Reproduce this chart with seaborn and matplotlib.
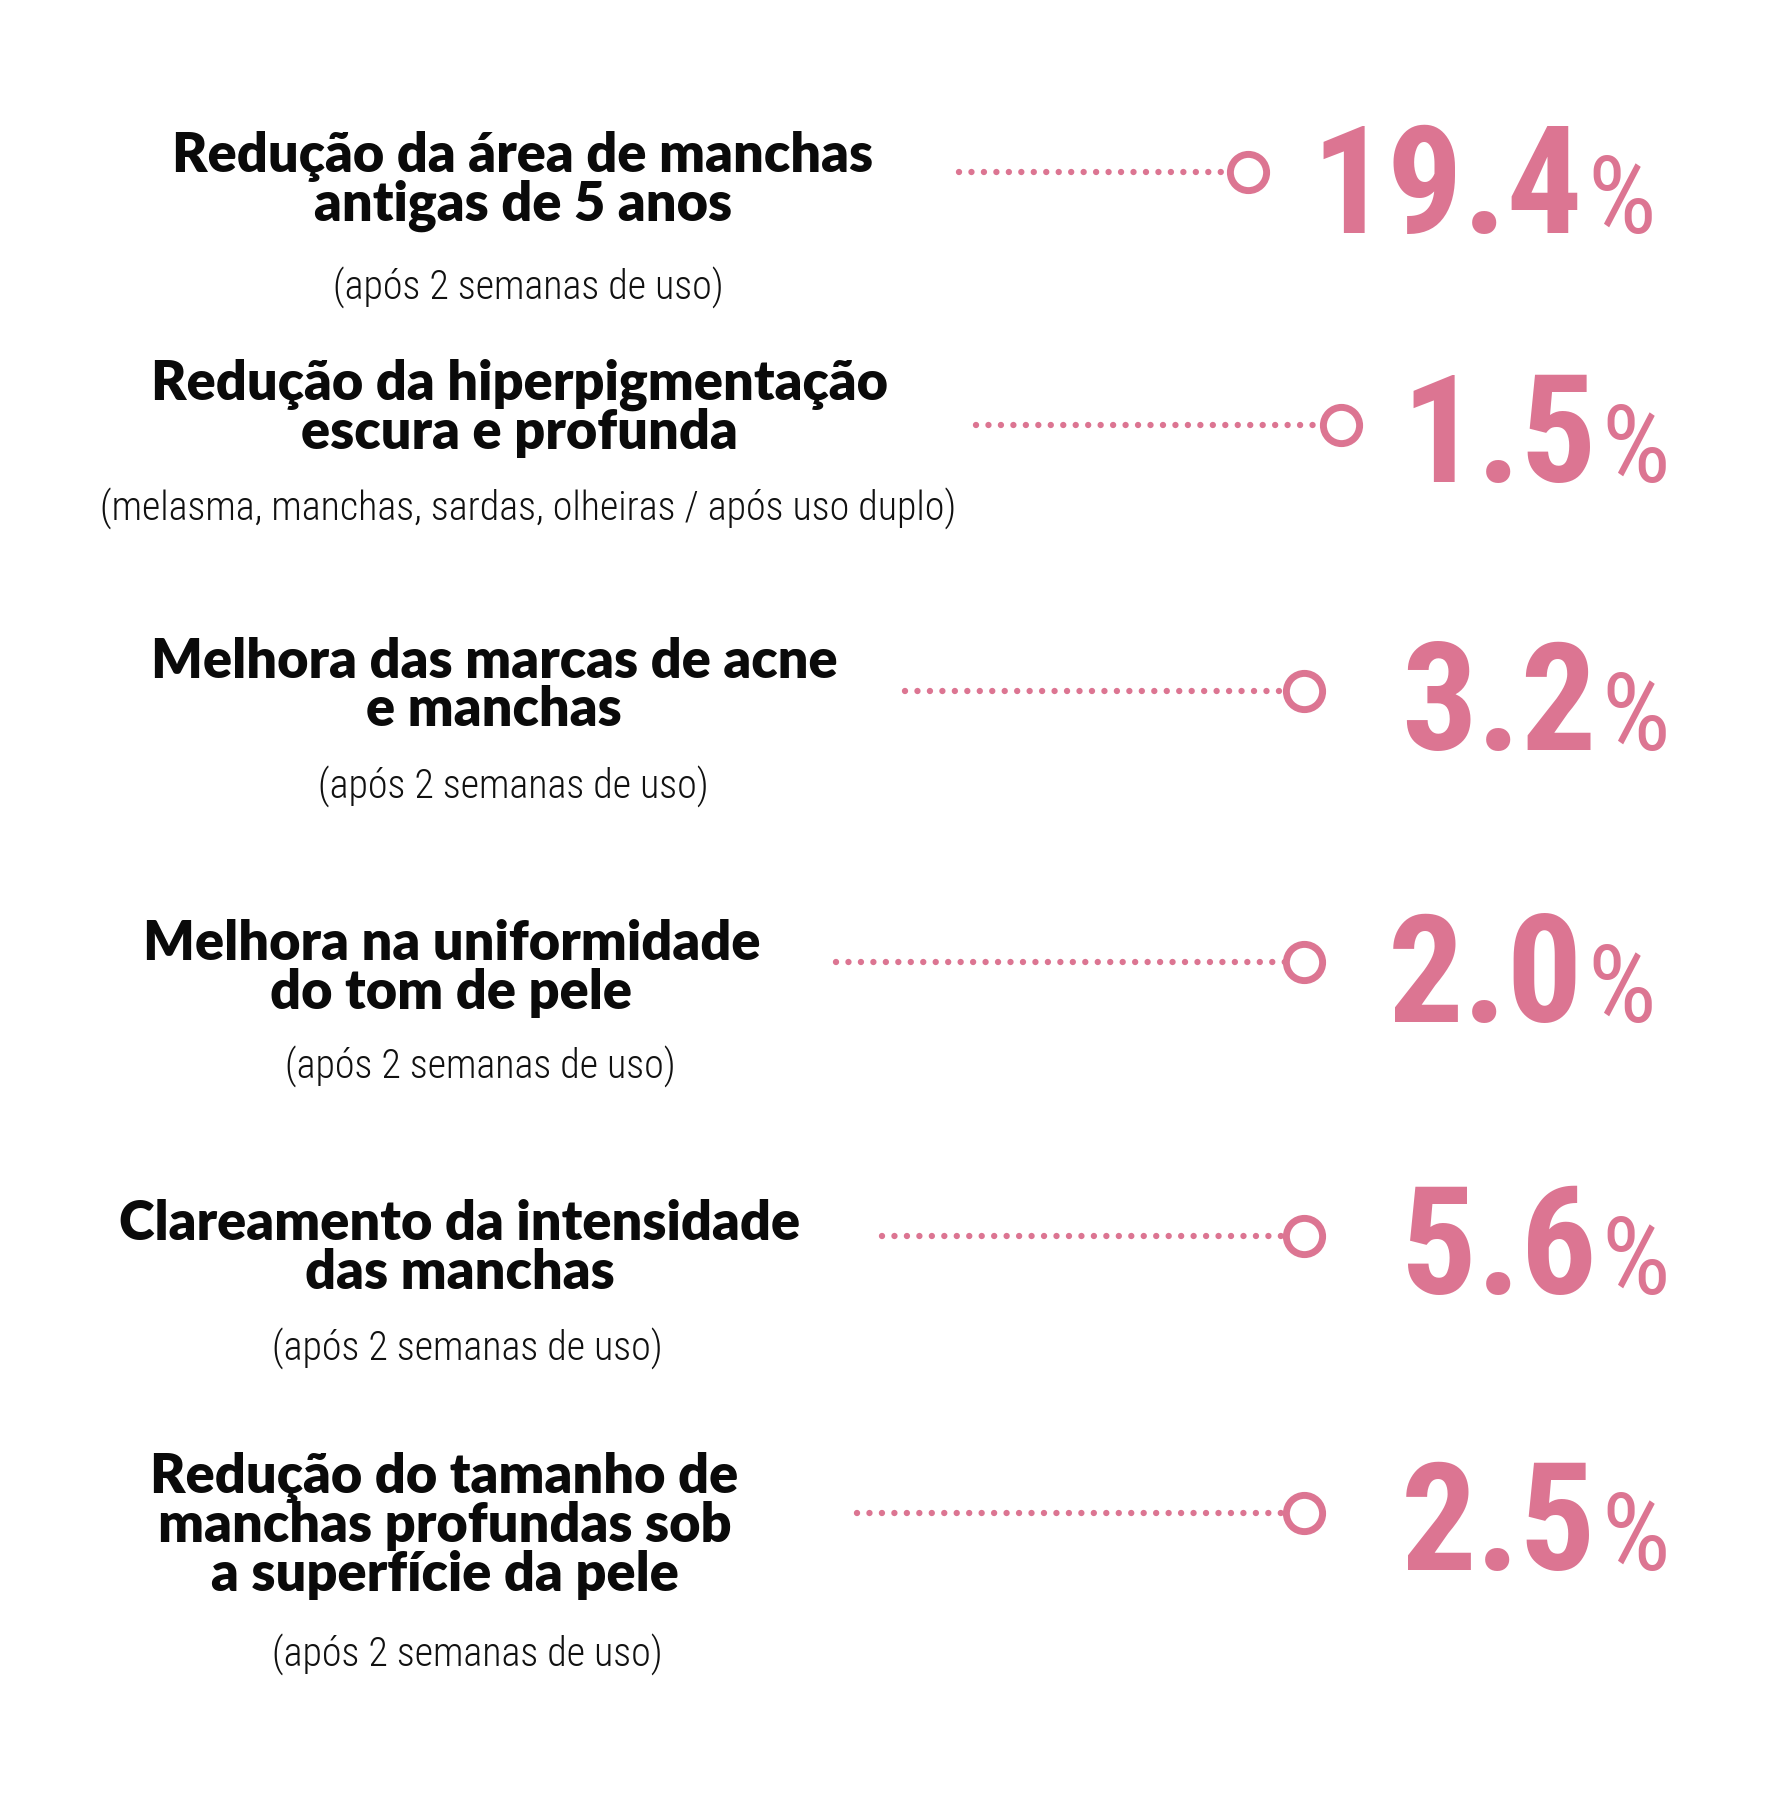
import matplotlib
matplotlib.use("Agg")
import matplotlib.pyplot as plt
from matplotlib import font_manager
import seaborn as sns
import pandas as pd

# ---------------- data ----------------
titles = [
    "Redução da área de manchas\nantigas de 5 anos",
    "Redução da hiperpigmentação\nescura e profunda",
    "Melhora das marcas de acne\ne manchas",
    "Melhora na uniformidade\ndo tom de pele",
    "Clareamento da intensidade\ndas manchas",
    "Redução do tamanho de\nmanchas profundas sob\na superfície da pele",
]
subtitles = [
    "(após 2 semanas de uso)",
    "(melasma, manchas, sardas, olheiras / após uso duplo)",
    "(após 2 semanas de uso)",
    "(após 2 semanas de uso)",
    "(após 2 semanas de uso)",
    "(após 2 semanas de uso)",
]
values = [19.4, 1.5, 3.2, 2.0, 5.6, 2.5]

# ---------------- layout (reference frame 1560 x 1562) ----------------
title_cx = [455, 452, 430, 393, 400, 387]
title_base = [150, 348, 590, 836, 1080, 1300]
title_step = 42.5
sub_cx = [460, 460, 447, 418, 407, 407]
sub_cy = [250, 442, 684, 928, 1174, 1440]
line_x0 = [835, 850, 788, 728, 768, 746]
line_x1 = [1086, 1167, 1135, 1135, 1135, 1135]
line_y = [150, 370, 602, 838, 1076, 1317]
num_right = [1378, 1390, 1390, 1378, 1390, 1390]
num_base = [203, 420, 653, 890, 1127, 1367]

PINK = "#DC7592"

sns.set_theme(style="white")

weights = {}
for f in font_manager.fontManager.ttflist:
    w = f.weight
    if isinstance(w, str):
        w = font_manager.weight_dict.get(w, 400)
    weights.setdefault(f.name, set()).add(int(w))

def pick(cands, want=None, tol=50):
    for c in cands:
        if c in weights:
            if want is None or any(abs(w - want) <= tol for w in weights[c]):
                return c
    return None

title_font = pick(["Lato", "Open Sans"], 800, 100) or "DejaVu Sans"
sub_font = pick(["Open Sans Condensed", "Roboto Condensed", "Fira Sans Condensed",
                 "Encode Sans Condensed", "Sofia Sans Condensed", "Barlow Condensed",
                 "Saira Condensed", "Archivo Narrow", "PT Sans Narrow"], 300)
sub_weight = 300
if sub_font is None:
    sub_font = pick(["Open Sans Condensed", "Roboto Condensed", "Archivo Narrow",
                     "PT Sans Narrow"]) or "DejaVu Sans"
    sub_weight = "normal"
num_font = pick(["Roboto Condensed", "Archivo Narrow", "PT Sans Narrow",
                 "Pragati Narrow", "Open Sans Condensed"], 700) or "DejaVu Sans"
plt.rcParams["font.family"] = [title_font, "DejaVu Sans"]

fig = plt.figure(figsize=(17.92, 17.94), dpi=100)
fig.patch.set_facecolor("white")
ax = fig.add_axes([0, 0, 1, 1])

# dotted connectors
rows = []
for i in range(len(values)):
    rows.append({"row": i, "x": line_x0[i], "y": line_y[i]})
    rows.append({"row": i, "x": line_x1[i], "y": line_y[i]})
df_lines = pd.DataFrame(rows)
sns.lineplot(data=df_lines, x="x", y="y", units="row", estimator=None, sort=False,
             color=PINK, linewidth=4.6, linestyle=(0, (0.001, 1.95)),
             dash_capstyle="round", ax=ax, legend=False)

# hollow circles
df_pts = pd.DataFrame({"x": line_x1, "y": line_y})
sns.scatterplot(data=df_pts, x="x", y="y", marker="o", s=680,
                facecolor="white", edgecolor=PINK, linewidth=5.0, ax=ax,
                zorder=5, legend=False)

ax.set_xlim(0, 1560)
ax.set_ylim(1562, 0)
ax.axis("off")

for i in range(len(values)):
    for j, line in enumerate(titles[i].split("\n")):
        ax.text(title_cx[i], title_base[i] + j * title_step, line,
                ha="center", va="baseline", fontsize=39, fontweight="heavy",
                color="#0a0a0a", family=[title_font, "DejaVu Sans"])
    ax.text(sub_cx[i], sub_cy[i], subtitles[i], ha="center", va="center",
            fontsize=28.8, fontweight=sub_weight, color="#111111",
            family=[sub_font, "DejaVu Sans"])
    ax.text(num_right[i], num_base[i], f"{values[i]:.1f}", ha="right",
            va="baseline", fontsize=108, fontweight="bold", color=PINK,
            family=[num_font, "DejaVu Sans"])
    ax.text(num_right[i] + 4, num_base[i], "%", ha="left", va="baseline",
            fontsize=78, fontweight="normal", color=PINK,
            family=[num_font, "DejaVu Sans"])

fig.savefig("out.png", dpi=100, facecolor="white")
